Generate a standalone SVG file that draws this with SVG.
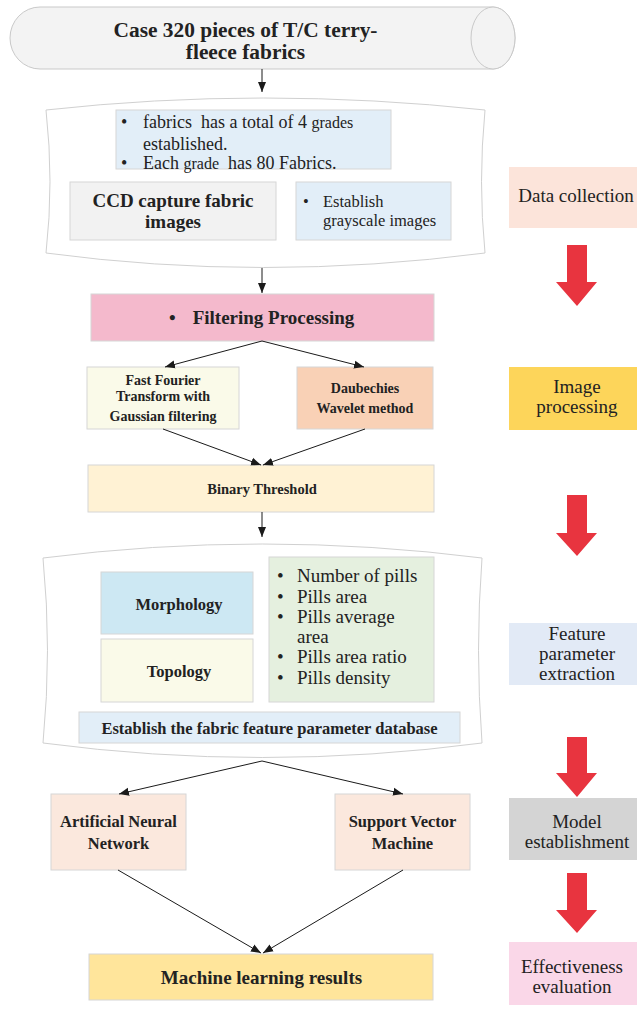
<svg xmlns="http://www.w3.org/2000/svg" width="637" height="1009" viewBox="0 0 637 1009">
  <style>
    .box { stroke: #d6d6d6; stroke-width: 1; }
    .frame { fill: #ffffff; stroke: #d0d0d0; stroke-width: 1; }
    .b { font-family: "Liberation Serif", "Times New Roman", serif; font-weight: bold; fill: #222; text-anchor: middle; }
    .r { font-family: "Liberation Serif", "Times New Roman", serif; fill: #222; }
    .rc { font-family: "Liberation Serif", "Times New Roman", serif; fill: #222; text-anchor: middle; font-size: 19px; }
    .conn { stroke: #1a1a1a; stroke-width: 1; fill: none; marker-end: url(#ah); }
    .red { fill: #e8343f; }
  </style>
  <defs>
    <marker id="ah" viewBox="0 0 10 10" refX="10" refY="5" markerWidth="10" markerHeight="10" markerUnits="userSpaceOnUse" orient="auto">
      <path d="M0,1 L10,5 L0,9 Z" fill="#1a1a1a"/>
    </marker>
  </defs>

  <rect width="637" height="1009" fill="#ffffff"/>

  <!-- Source cylinder -->
  <g id="source">
    <path d="M40,7 L493,7 A22,31 0 0 1 493,69 L40,69 A30,31 0 0 1 40,7 Z" fill="#f3f3f3" stroke="#c9c9c9"/>
    <ellipse cx="493" cy="38" rx="22" ry="31" fill="#f3f3f3" stroke="#c9c9c9"/>
    <text class="b" x="245.5" y="37" font-size="21.4">Case 320 pieces of T/C terry-</text>
    <text class="b" x="245.5" y="59" font-size="21.4">fleece fabrics</text>
  </g>

  <!-- Data collection frame -->
  <g id="collection-frame">
    <path class="frame" d="M46,110 Q262,86 485,110 Q478,182 485,253 Q262,282 46,253 Q54,182 46,110 Z"/>
  </g>
  <g id="grades">
    <rect class="box" x="116" y="110" width="275" height="59" fill="#e2eef8"/>
    <text class="r" x="121" y="128" font-size="18">•</text>
    <text class="r" x="143" y="128" font-size="18">fabrics&#160; has a total of 4 <tspan font-size="16">grades</tspan></text>
    <text class="r" x="143" y="150" font-size="18">established.</text>
    <text class="r" x="121" y="169" font-size="18">•</text>
    <text class="r" x="143" y="169" font-size="18">Each <tspan font-size="16">grade</tspan>&#160; has 80 Fabrics.</text>
  </g>
  <g id="ccd">
    <rect class="box" x="70" y="182" width="206" height="58" fill="#f2f2f2"/>
    <text class="b" x="173" y="207" font-size="19">CCD capture fabric</text>
    <text class="b" x="173" y="228" font-size="19">images</text>
  </g>
  <g id="grayscale">
    <rect class="box" x="296" y="182" width="155" height="58" fill="#e2eef8"/>
    <text class="r" x="303" y="207" font-size="16.5">•</text>
    <text class="r" x="323" y="207" font-size="16.5">Establish</text>
    <text class="r" x="323" y="226" font-size="16.5">grayscale images</text>
  </g>

  <!-- Image processing -->
  <g id="filtering">
    <rect class="box" x="91" y="294" width="343" height="47" fill="#f4b9cc"/>
    <text class="r" x="169" y="324" font-size="19" font-weight="bold">•</text>
    <text class="b" x="273.5" y="324" font-size="19">Filtering Processing</text>
  </g>
  <g id="fft">
    <rect class="box" x="87" y="367" width="152" height="62" fill="#fafae9"/>
    <text class="b" x="163" y="385" font-size="14">Fast Fourier</text>
    <text class="b" x="163" y="401" font-size="14">Transform with</text>
    <text class="b" x="163" y="421" font-size="14">Gaussian filtering</text>
  </g>
  <g id="wavelet">
    <rect class="box" x="297" y="367" width="136" height="62" fill="#f9d1b6"/>
    <text class="b" x="365" y="393" font-size="14">Daubechies</text>
    <text class="b" x="365" y="413" font-size="14">Wavelet method</text>
  </g>
  <g id="threshold">
    <rect class="box" x="88" y="465" width="346" height="47" fill="#fff2d4"/>
    <text class="b" x="262" y="494" font-size="14.5">Binary Threshold</text>
  </g>

  <!-- Feature extraction frame -->
  <g id="feature-frame">
    <path class="frame" d="M43,558 Q262,530 482,558 Q475,650 482,743 Q262,772 43,743 Q52,650 43,558 Z"/>
  </g>
  <g id="morphology">
    <rect class="box" x="101" y="572" width="152" height="62" fill="#cde8f3"/>
    <text class="b" x="179" y="610" font-size="16.5">Morphology</text>
  </g>
  <g id="topology">
    <rect class="box" x="101" y="639" width="152" height="63" fill="#fafae9"/>
    <text class="b" x="179" y="677" font-size="16.5">Topology</text>
  </g>
  <g id="parameters">
    <rect class="box" x="269" y="557" width="165" height="145" fill="#e5f0df"/>
    <text class="r" x="277" y="582" font-size="19">•</text>
    <text class="r" x="297" y="582" font-size="19">Number of pills</text>
    <text class="r" x="277" y="603" font-size="19">•</text>
    <text class="r" x="297" y="603" font-size="19">Pills area</text>
    <text class="r" x="277" y="623" font-size="19">•</text>
    <text class="r" x="297" y="623" font-size="19">Pills average</text>
    <text class="r" x="297" y="643" font-size="19">area</text>
    <text class="r" x="277" y="663" font-size="19">•</text>
    <text class="r" x="297" y="663" font-size="19">Pills area ratio</text>
    <text class="r" x="277" y="684" font-size="19">•</text>
    <text class="r" x="297" y="684" font-size="19">Pills density</text>
  </g>
  <g id="database">
    <rect class="box" x="79" y="712" width="381" height="31" fill="#e2eef8"/>
    <text class="b" x="269.5" y="734" font-size="16.5">Establish the fabric feature parameter database</text>
  </g>

  <!-- Models -->
  <g id="ann">
    <rect class="box" x="51" y="794" width="135" height="76" fill="#fbe8dd"/>
    <text class="b" x="118.5" y="827" font-size="16.5">Artificial Neural</text>
    <text class="b" x="118.5" y="849" font-size="16.5">Network</text>
  </g>
  <g id="svm">
    <rect class="box" x="335" y="794" width="135" height="76" fill="#fbe8dd"/>
    <text class="b" x="402.5" y="827" font-size="16.5">Support Vector</text>
    <text class="b" x="402.5" y="849" font-size="16.5">Machine</text>
  </g>
  <g id="results">
    <rect class="box" x="89" y="954" width="344" height="46" fill="#ffe59b"/>
    <text class="b" x="261.5" y="984" font-size="19">Machine learning results</text>
  </g>

  <!-- Stage labels -->
  <g id="stage-collection">
    <rect x="509" y="167" width="128" height="61" fill="#fce4da"/>
    <text class="rc" x="576" y="202">Data collection</text>
  </g>
  <g id="stage-processing">
    <rect x="509" y="367" width="128" height="63" fill="#fdd55a"/>
    <text class="rc" x="577" y="393">Image</text>
    <text class="rc" x="577" y="413">processing</text>
  </g>
  <g id="stage-extraction">
    <rect x="509" y="623" width="128" height="62" fill="#e2eaf6"/>
    <text class="rc" x="577" y="640">Feature</text>
    <text class="rc" x="577" y="660">parameter</text>
    <text class="rc" x="577" y="680">extraction</text>
  </g>
  <g id="stage-model">
    <rect x="509" y="798" width="128" height="62" fill="#d4d4d4"/>
    <text class="rc" x="577" y="828">Model</text>
    <text class="rc" x="577" y="848">establishment</text>
  </g>
  <g id="stage-evaluation">
    <rect x="509" y="942" width="128" height="63" fill="#fad7e8"/>
    <text class="rc" x="572" y="973">Effectiveness</text>
    <text class="rc" x="572" y="993">evaluation</text>
  </g>

  <!-- Stage arrows -->
  <g id="stage-arrows">
    <path class="red" d="M567,245 H587 V282 H597 L577,306 L556,282 H567 Z"/>
    <path class="red" d="M567,495 H587 V533 H597 L577,556 L556,533 H567 Z"/>
    <path class="red" d="M567,737 H587 V773 H597 L577,797 L556,773 H567 Z"/>
    <path class="red" d="M567,873 H587 V910 H597 L577,933 L556,910 H567 Z"/>
  </g>

  <!-- Connectors -->
  <g id="connectors">
    <line class="conn" x1="262" y1="69" x2="262" y2="92"/>
    <line class="conn" x1="262" y1="268" x2="262" y2="293"/>
    <line class="conn" x1="262" y1="341" x2="165" y2="367"/>
    <line class="conn" x1="262" y1="341" x2="364" y2="367"/>
    <line class="conn" x1="163" y1="429" x2="261" y2="465"/>
    <line class="conn" x1="365" y1="429" x2="263" y2="465"/>
    <line class="conn" x1="262" y1="512" x2="262" y2="537"/>
    <line class="conn" x1="262" y1="761" x2="119" y2="794"/>
    <line class="conn" x1="262" y1="761" x2="403" y2="794"/>
    <line class="conn" x1="118" y1="870" x2="261" y2="953"/>
    <line class="conn" x1="403" y1="870" x2="263" y2="953"/>
  </g>
</svg>
